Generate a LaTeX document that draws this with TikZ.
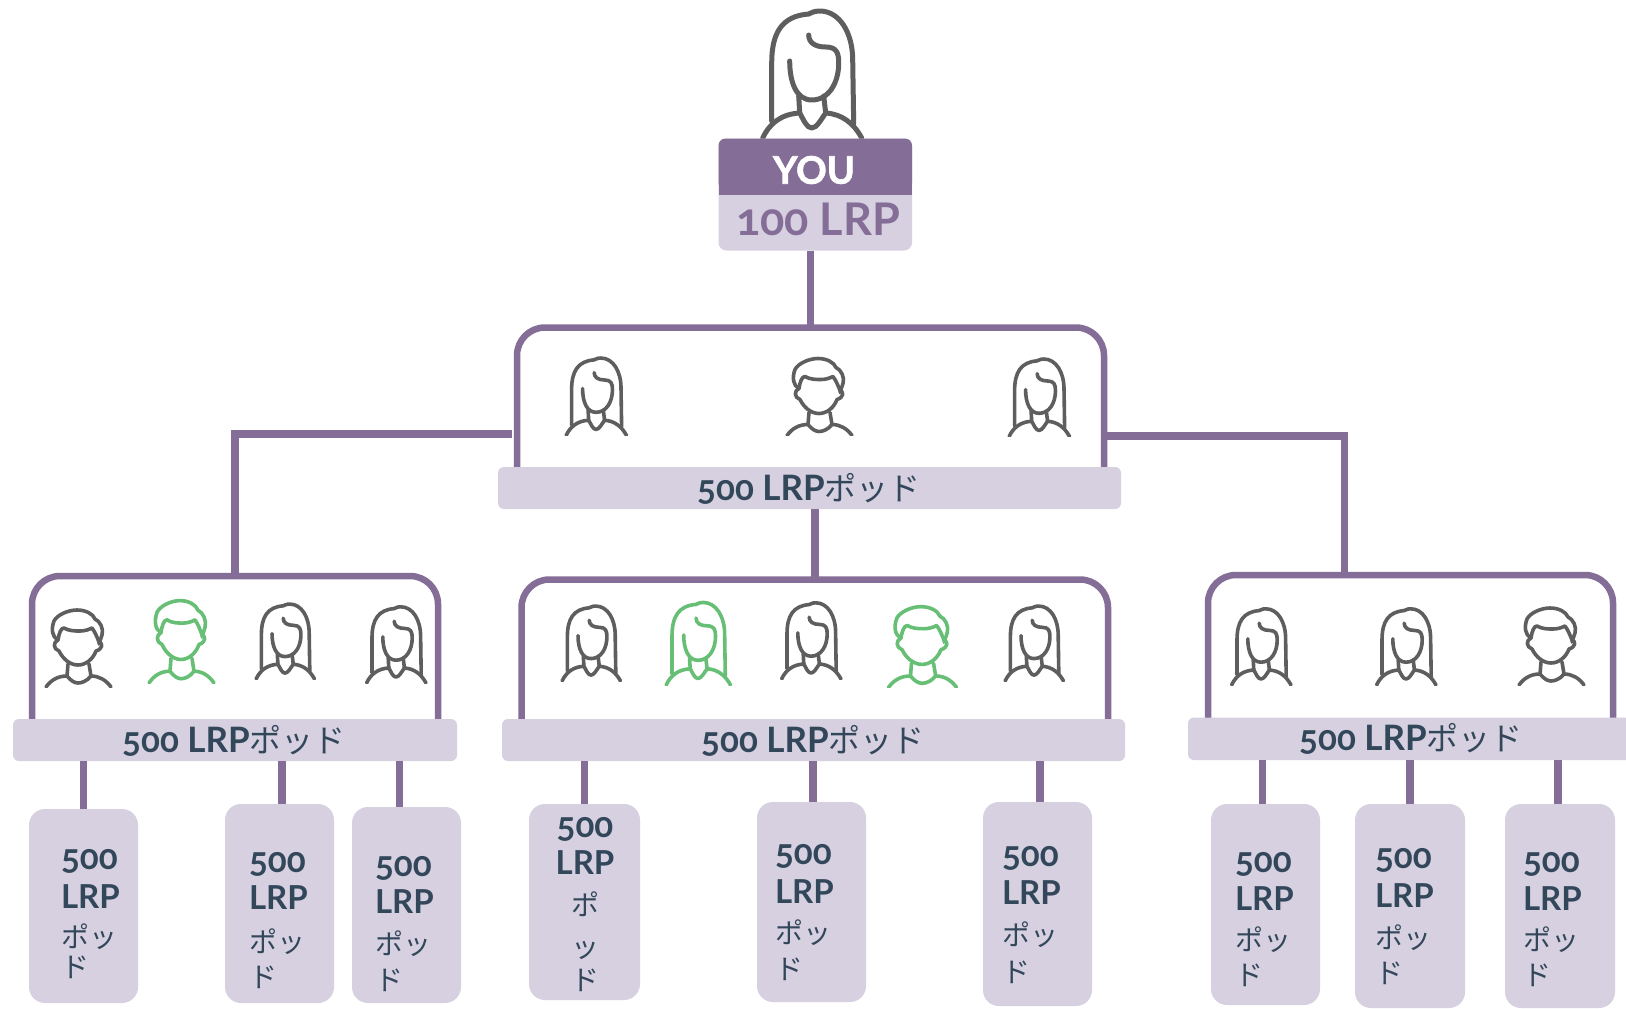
\documentclass[tikz,border=0pt]{standalone}
\usepackage{fontspec}
\setmainfont{Lato}
\newfontfamily\lat[Numbers=OldStyle]{Lato}
\newfontfamily\latheavy[FakeBold=1.6]{Lato}
\newfontfamily\jp{Noto Sans CJK JP}
\definecolor{lineP}{HTML}{846D96}
\definecolor{lightP}{HTML}{D6D0E0}
\definecolor{inkD}{HTML}{33475B}
\definecolor{iconG}{HTML}{5E5E5E}
\definecolor{iconH}{HTML}{66BF75}
\tikzset{
  x=1pt,y=-1pt,
  link/.style={draw=lineP,line width=7.5pt},
  frameb/.style={draw=lineP,line width=6.5pt,fill=white,rounded corners=28pt,inner sep=0pt,outer sep=0pt},
  barb/.style={fill=lightP,rounded corners=6pt,inner sep=0pt,outer sep=0pt},
  podb/.style={fill=lightP,rounded corners=16pt,inner sep=0pt,outer sep=0pt},
  headb/.style={fill=lineP,rounded corners=7pt,inner sep=0pt,outer sep=0pt},
  lab/.style={text=inkD,inner sep=0pt,outer sep=0pt,font=\fontsize{33}{33}\selectfont\lat\bfseries},
  jpl/.style={text=inkD,inner sep=0pt,outer sep=0pt,text height=24pt,text depth=0pt,font=\fontsize{28}{28}\selectfont\jp},
  ll/.style={lab,anchor=west,text height=22pt,text depth=0pt},
}
\newcommand\rectn[6]{%
  \pgfmathsetmacro\rw{#5-#3}\pgfmathsetmacro\rh{#6-#4}%
  \node[#2,anchor=north west,minimum width=\rw pt,minimum height=\rh pt] (#1) at (#3,#4) {};}
\newcommand\womanicon[5]{%
  \begin{scope}[shift={(#1,#2)},scale=#3]
  \clip (-60,-140) rectangle (60,0);
  \begin{scope}[draw=#4,line width=#5pt,line cap=round,line join=round]
  \draw (-40,-17) -- (-40,-75) .. controls (-40,-105) and (-30,-122) .. (-3,-124) .. controls (3,-127) and (5,-127) .. (8,-127) .. controls (28,-127) and (41,-105) .. (41,-78) -- (42,-14);
  \draw (-22,-77) .. controls (-22,-55) and (-15,-38) .. (0,-38) .. controls (17,-38) and (27,-55) .. (27,-75) .. controls (27,-85) and (25,-91) .. (14,-91) .. controls (4,-91) and (-3,-95) .. (-3,-103);
  \draw (-13,-42) -- (-12,-25);
  \draw (12,-42) -- (14,-25);
  \draw (-49,0) .. controls (-42,-15) and (-30,-24) .. (-12,-25) .. controls (-8,-18) and (-5,-10) .. (0,-10) .. controls (5,-10) and (9,-18) .. (14,-25) .. controls (30,-24) and (42,-15) .. (50,0);
  \end{scope}
  \end{scope}}
\newcommand\manicon[5]{%
  \begin{scope}[shift={(#1,#2)},#3]
  \clip (-40,-85) rectangle (40,0);
  \begin{scope}[draw=#4,line width=#5pt,line cap=round,line join=round]
  \draw (-20,-47) .. controls (-26,-50) and (-27,-58) .. (-24,-66) .. controls (-21,-72) and (-10,-77) .. (-1,-77) .. controls (8,-77) and (15,-73) .. (17,-68) .. controls (22,-66) and (26,-58) .. (24,-52) -- (21,-43);
  \draw (-20,-47) .. controls (-19,-54) and (-17,-59) .. (-14,-59) .. controls (-9,-56) and (-3,-56) .. (2,-56) .. controls (6,-56) and (10,-57) .. (14,-59) .. controls (17,-55) and (19,-50) .. (21,-45);
  \draw (-20,-47) .. controls (-25,-45) and (-25,-38) .. (-19,-36) .. controls (-15,-28) and (-8,-22) .. (0,-22) .. controls (8,-22) and (15,-28) .. (18,-36) .. controls (25,-38) and (25,-44) .. (21,-45);
  \draw (-10,-23) -- (-11,-11);
  \draw (11,-23) -- (13,-11);
  \draw (-32,0) .. controls (-27,-7) and (-20,-11) .. (-11,-11) .. controls (-7,-6) and (-3,-4) .. (0,-4) .. controls (4,-4) and (9,-6) .. (13,-11) .. controls (21,-11) and (28,-7) .. (33,0);
  \end{scope}
  \end{scope}}
% pod label: name, x, y500, yLRP, yPo, yDo
\newcommand\podtext[6]{%
  \node[ll] (#1a) at (#2,#3-2) {\fontsize{35}{35}\selectfont 500};
  \node[ll] (#1b) at (#2,#4) {LRP};
  \node[jpl,anchor=west] (#1c) at (#2,#5) {ポッ};
  \node[jpl,anchor=west] (#1d) at (#2,#6) {ド};}
\newcommand\bartext[4]{\node[lab,text height=22pt,text depth=0pt] (#1) at (#2,#3) {\fontsize{35}{35}\selectfont 500 LRP{\jp\mdseries\fontsize{32}{32}\selectfont ポッド}};}
\begin{document}
\begin{tikzpicture}
\useasboundingbox (0,0) rectangle (1626,1009);
\fill[white] (0,0) rectangle (1626,1009);
% top person and card
\womanicon{811.7}{138}{1}{iconG}{5}
\rectn{you}{barb,rounded corners=8pt}{718.5}{138.5}{912}{250.5}
\rectn{youhead}{headb}{718.5}{138.5}{912}{190}
\fill[lineP] (718.5,170) rectangle (912,195);
\node[text=white,inner sep=0pt,font=\fontsize{38}{38}\selectfont\latheavy\bfseries] (youtext) at (814,170) {YOU};
\node[text=lineP,inner sep=0pt,font=\fontsize{45}{45}\selectfont\lat\bfseries] (lrptext) at (818,219) {100 LRP};
% frames
\rectn{frameA}{frameb}{517}{327.5}{1104}{505}
\rectn{frameL}{frameb}{32}{576}{438}{755}
\rectn{frameM}{frameb}{521.5}{579.5}{1108}{755}
\rectn{frameR}{frameb}{1208}{575}{1613}{755}
% bars
\rectn{barA}{barb}{498}{467}{1121}{509}
\rectn{barL}{barb}{13}{719}{457}{761}
\rectn{barM}{barb}{502}{719}{1125}{761}
\rectn{barR}{barb}{1188}{717.5}{1640}{760}
\bartext{tA}{809}{489}{}
\bartext{tL}{234}{741}{}
\bartext{tM}{813}{741}{}
\bartext{tR}{1411}{739}{}
% pods
\rectn{p1}{podb}{29}{809}{138}{1003}
\rectn{p2}{podb}{225}{804}{334}{1003}
\rectn{p3}{podb}{352}{807}{461}{1003}
\rectn{p4}{podb}{529}{804}{640}{1000}
\rectn{p5}{podb}{757}{802}{866}{1002}
\rectn{p6}{podb}{983}{802}{1092}{1006}
\rectn{p7}{podb}{1211}{804}{1320}{1005}
\rectn{p8}{podb}{1355}{804}{1465}{1008}
\rectn{p9}{podb}{1505}{804}{1615}{1008}
\podtext{q1}{61}{860}{897}{935}{965}
\podtext{q2}{249}{863}{898}{940}{975}
\podtext{q3}{375}{867}{902}{942}{978}
\node[ll,anchor=center] (q4a) at (585,826) {\fontsize{35}{35}\selectfont 500};
\node[ll,anchor=center] (q4b) at (585,863) {LRP};
\node[jpl] (q4c) at (585,903) {ポ};
\node[jpl] (q4d) at (585,945) {ッ};
\node[jpl] (q4e) at (585,978) {ド};
\podtext{q5}{775}{855}{892}{931}{967}
\podtext{q6}{1002}{857}{893}{933}{970}
\podtext{q7}{1235}{863}{899}{938}{973}
\podtext{q8}{1375}{859}{896}{936}{971}
\podtext{q9}{1523}{863}{899}{938}{973}
% connectors
\coordinate (elbowL) at (512,434);
\coordinate (elbowR) at (1107,436);
\draw[link] (frameA.north |- you.south) -- (frameA.north);
\draw[link] (elbowL) -| (frameL.north);
\draw[link] (elbowR) -| ([xshift=-66pt]frameR.north);
\draw[link] (barA.south -| frameM.north) -- (frameM.north);
\draw[link] (p1.north |- barL.south) -- (p1.north);
\draw[link] ([xshift=2.5pt]p2.north |- barL.south) -- ([xshift=2.5pt]p2.north);
\draw[link] ([xshift=-7pt]p3.north |- barL.south) -- ([xshift=-7pt]p3.north);
\draw[link] (p4.north |- barM.south) -- (p4.north);
\draw[link] ([xshift=1.5pt]p5.north |- barM.south) -- ([xshift=1.5pt]p5.north);
\draw[link] ([xshift=2.5pt]p6.north |- barM.south) -- ([xshift=2.5pt]p6.north);
\draw[link] ([xshift=-3pt]p7.north |- barR.south) -- ([xshift=-3pt]p7.north);
\draw[link] (p8.north |- barR.south) -- (p8.north);
\draw[link] ([xshift=-2pt]p9.north |- barR.south) -- ([xshift=-2pt]p9.north);
% people
\womanicon{596}{435.5}{.61}{iconG}{3.6}
\manicon{819}{435.5}{scale=1}{iconG}{3.6}
\womanicon{1039}{436.5}{.61}{iconG}{3.6}
\manicon{78}{687}{scale=1}{iconG}{3.6}
\manicon{181}{683}{yscale=1.07}{iconH}{3.6}
\womanicon{285}{679}{.59}{iconG}{3.6}
\womanicon{396}{683}{.6}{iconG}{3.6}
\womanicon{591}{681}{.59}{iconG}{3.6}
\womanicon{698}{685}{.65}{iconH}{3.6}
\womanicon{811}{679}{.6}{iconG}{3.6}
\manicon{922}{687.5}{scale=1.05}{iconH}{3.6}
\womanicon{1034}{681}{.59}{iconG}{3.6}
\womanicon{1261}{685}{.6}{iconG}{3.6}
\womanicon{1406}{685}{.6}{iconG}{3.6}
\manicon{1551}{685}{scale=1}{iconG}{3.6}
\end{tikzpicture}
\end{document}
